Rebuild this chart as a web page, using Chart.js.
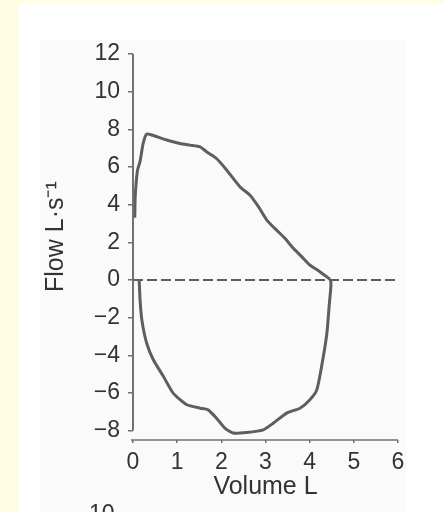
<!DOCTYPE html>
<html>
<head>
<meta charset="utf-8">
<script src="https://cdn.jsdelivr.net/npm/chart.js@4"></script>
<style>
  html, body { margin: 0; padding: 0; }
  body { width: 444px; height: 512px; overflow: hidden; background: #fffde4; position: relative; }
  #panel { position: absolute; left: 19px; top: 4px; right: 0; bottom: 0; background: #ffffff; }
  #inner { position: absolute; left: 40px; top: 40px; width: 366px; bottom: 0; background: #fafafa; }
  #wrap { position: absolute; left: 0; top: 0; width: 444px; height: 512px; }
  #next { position: absolute; left: 89px; top: 500px; font: 23px "Liberation Sans", Arial, sans-serif; color: #333; }
</style>
</head>
<body>
<div id="panel"></div>
<div id="inner"></div>
<div id="wrap"><canvas id="Chart"></canvas></div>
<div id="next">10</div>
<script>
const ctx = document.getElementById("Chart").getContext("2d");

// axis ticks
const volumeTicks = [0, 1, 2, 3, 4, 5, 6];
const flowTicks = [-8, -6, -4, -2, 0, 2, 4, 6, 8, 10, 12];

// expiration (upper half of loop)
const expVolume = [0.04, 0.05, 0.10, 0.16, 0.23, 0.31, 0.42, 0.76, 1.06, 1.29, 1.52, 1.67, 1.89, 2.12, 2.42, 2.65, 2.84, 3.03, 3.21, 3.44, 3.63, 3.82, 4.00, 4.23, 4.46];
const expFlow   = [3.30, 4.42, 5.80, 6.30, 7.25, 7.75, 7.70, 7.43, 7.25, 7.16, 7.07, 6.80, 6.45, 5.84, 4.95, 4.50, 3.89, 3.18, 2.74, 2.21, 1.68, 1.24, 0.80, 0.44, 0.04];

// inspiration (lower half of loop)
const inspVolume = [0.14, 0.16, 0.20, 0.31, 0.46, 0.69, 0.91, 1.22, 1.52, 1.70, 1.89, 2.08, 2.27, 2.57, 2.95, 3.18, 3.48, 3.78, 4.00, 4.16, 4.27, 4.39, 4.44, 4.48, 4.48];
const inspFlow   = [0.00, -1.06, -2.12, -3.36, -4.24, -5.13, -6.01, -6.63, -6.81, -6.90, -7.34, -7.87, -8.13, -8.10, -7.96, -7.60, -7.07, -6.81, -6.37, -5.84, -4.60, -2.83, -1.42, -0.36, 0.00];

// dashed zero line
const zeroVolume = [0, 6];
const zeroFlow = [0, 0];

const lineColor = '#5e5e5e';
const axisColor = '#707070';
const textColor = '#333333';
const fontFamily = '"Liberation Sans", Arial, sans-serif';

function toPoints(xs, ys) {
  return xs.map((v, i) => ({x: v, y: ys[i]}));
}

const axisLines = {
  id: 'axisLines',
  afterDatasetsDraw(chart) {
    const {ctx, scales: {x, y}} = chart;
    const x0 = x.getPixelForValue(volumeTicks[0]);
    ctx.save();
    ctx.strokeStyle = axisColor;
    ctx.lineWidth = 2;
    ctx.beginPath();
    ctx.moveTo(x0, y.getPixelForValue(flowTicks[flowTicks.length - 1]));
    ctx.lineTo(x0, y.getPixelForValue(flowTicks[0]));
    ctx.stroke();
    ctx.lineWidth = 1.5;
    ctx.beginPath();
    ctx.moveTo(x0 - 2, y.bottom);
    ctx.lineTo(x.getPixelForValue(volumeTicks[volumeTicks.length - 1]), y.bottom);
    ctx.stroke();
    ctx.restore();
  }
};

let my_chart = new Chart(ctx, {
  type: 'scatter',
  data: {
    datasets: [{
      label: 'Zero',
      data: toPoints(zeroVolume, zeroFlow),
      showLine: true,
      borderColor: lineColor,
      borderWidth: 2,
      borderDash: [10, 4],
      pointRadius: 0
    }, {
      label: 'Expiration',
      data: toPoints(expVolume, expFlow),
      showLine: true,
      borderColor: lineColor,
      borderWidth: 3,
      borderJoinStyle: 'round',
      tension: 0.2,
      pointRadius: 0
    }, {
      label: 'Inspiration',
      data: toPoints(inspVolume, inspFlow),
      showLine: true,
      borderColor: lineColor,
      borderWidth: 3,
      borderJoinStyle: 'round',
      tension: 0.2,
      pointRadius: 0
    }]
  },
  options: {
    responsive: true,
    maintainAspectRatio: false,
    animation: false,
    events: [],
    layout: { padding: { top: 54, right: 46, left: 0, bottom: 0 } },
    plugins: { legend: { display: false }, tooltip: { enabled: false } },
    scales: {
      x: {
        type: 'linear',
        min: 0,
        max: 6,
        afterBuildTicks: s => { s.ticks = volumeTicks.map(v => ({value: v})); },
        afterFit: s => { s.height = 72; },
        border: { display: false },
        grid: { drawOnChartArea: false, drawTicks: true, tickLength: 3, color: axisColor, lineWidth: 1.5 },
        ticks: { color: textColor, font: { family: fontFamily, size: 23 }, padding: 6, maxRotation: 0 },
        title: { display: true, text: 'Volume L', color: textColor, font: { family: fontFamily, size: 25 }, padding: { top: 0, bottom: 10 } }
      },
      y: {
        type: 'linear',
        min: -8.5,
        max: 12,
        afterBuildTicks: s => { s.ticks = flowTicks.map(v => ({value: v})); },
        afterFit: s => { s.width = 133; },
        border: { display: false },
        grid: { drawOnChartArea: false, drawTicks: true, tickLength: 5, color: axisColor, lineWidth: 1.5 },
        ticks: {
          color: textColor,
          font: { family: fontFamily, size: 23 },
          padding: 8,
          callback: v => (v < 0 ? '\u2212' + Math.abs(v) : '' + v)
        },
        title: { display: true, text: '   Flow L\u00B7s\u207B\u00B9', color: textColor, font: { family: fontFamily, size: 25 }, padding: { top: 41, bottom: 0 } }
      }
    }
  },
  plugins: [axisLines]
});
</script>
</body>
</html>
